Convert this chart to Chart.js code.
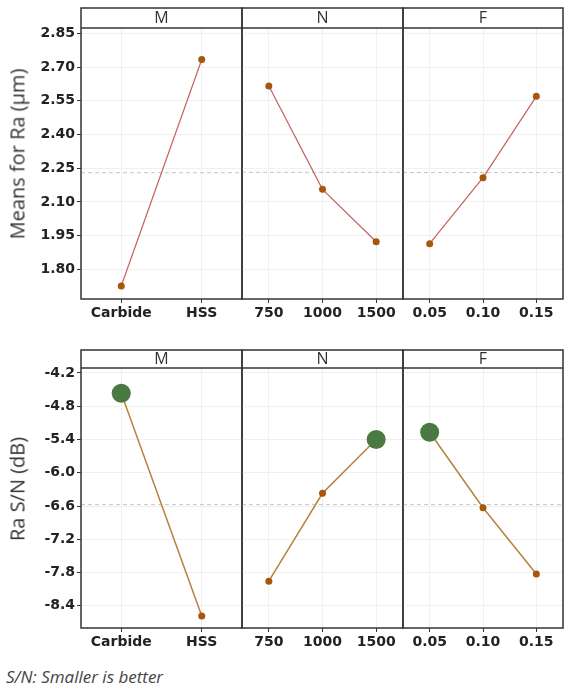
<!DOCTYPE html>
<html>
<head>
<meta charset="utf-8">
<script src="https://cdn.jsdelivr.net/npm/chart.js@4.4.1/dist/chart.umd.min.js"></script>
<style>
body { margin: 0; background: #fff; width: 564px; height: 686px; position: relative; overflow: hidden; font-family: 'Open Sans', sans-serif; }
canvas { position: absolute; }
.ytitle { position: absolute; left: 17px; font-size: 20px; color: #333; white-space: nowrap; transform: translate(-50%, -50%) rotate(-90deg); }
#note { position: absolute; left: 6px; top: 665px; font-style: italic; font-size: 17px; color: #444; }
</style>
</head>
<body>
<div id="note">S/N: Smaller is better</div>
<script>
// factors and their levels
const factors = ['M', 'N', 'F'];
const levelsM = ['Carbide', 'HSS'];
const levelsN = ['750', '1000', '1500'];
const levelsF = ['0.05', '0.10', '0.15'];

// main effects for means (Ra, µm)
const meansM = [1.726, 2.734];
const meansN = [2.616, 2.156, 1.923];
const meansF = [1.914, 2.208, 2.570];

// main effects for S/N ratios (dB)
const snM = [-4.565, -8.585];
const snN = [-7.955, -6.370, -5.400];
const snF = [-5.270, -6.630, -7.825];

// y tick labels
const meanTicks = [1.80, 1.95, 2.10, 2.25, 2.40, 2.55, 2.70, 2.85];
const snTicks = [-8.4, -7.8, -7.2, -6.6, -6.0, -5.4, -4.8, -4.2];

function avg(a) { return a.reduce((s, v) => s + v, 0) / a.length; }

const panelX = [81, 242, 403, 563];
const tickFont = { family: 'DejaVu Sans', size: 14, weight: 'bold' };

const rows = [
    { title: 'Means for Ra (µm)', levels: [levelsM, levelsN, levelsF], values: [meansM, meansN, meansF],
      ticks: meanTicks, dec: 2, min: 1.668, max: 2.874, top: 8, header: 20, bottom: 299,
      line: '#c4625b', lineWidth: 1.2, best: false },
    { title: 'Ra S/N (dB)', levels: [levelsM, levelsN, levelsF], values: [snM, snN, snF],
      ticks: snTicks, dec: 1, min: -8.80, max: -4.11, top: 350, header: 18, bottom: 628,
      line: '#b8803e', lineWidth: 1.5, best: true }
];

const framePlugin = {
    id: 'frame',
    beforeDatasetsDraw(chart, args, opts) {
        const a = chart.chartArea, ctx = chart.ctx;
        const y = chart.scales.y.getPixelForValue(opts.mean);
        ctx.save();
        ctx.strokeStyle = '#c4c4c4';
        ctx.lineWidth = 1;
        ctx.setLineDash([4, 3]);
        ctx.beginPath();
        ctx.moveTo(a.left, y);
        ctx.lineTo(a.right, y);
        ctx.stroke();
        ctx.restore();
    },
    afterDraw(chart, args, opts) {
        const a = chart.chartArea, ctx = chart.ctx;
        ctx.save();
        ctx.strokeStyle = '#333';
        ctx.lineWidth = 1.5;
        ctx.strokeRect(a.left, a.top - opts.header, a.right - a.left, a.bottom - a.top + opts.header);
        ctx.beginPath();
        ctx.moveTo(a.left, a.top);
        ctx.lineTo(a.right, a.top);
        ctx.stroke();
        ctx.restore();
    }
};

function makePanel(row, i) {
    var first = i == 0;
    var left = first ? 0 : panelX[i] - 2;
    var right = Math.min(564, panelX[i + 1] + 2);
    var top = row.top - 2;
    var height = row.bottom + 32 - top;
    var vals = row.values[i];
    var bestIdx = vals.indexOf(Math.max(...vals));

    var cv = document.createElement('canvas');
    cv.width = right - left;
    cv.height = height;
    cv.style.left = left + 'px';
    cv.style.top = top + 'px';
    document.body.appendChild(cv);

    new Chart(cv, {
        type: 'line',
        data: {
            labels: row.levels[i],
            datasets: [{
                data: vals,
                borderColor: row.line,
                borderWidth: row.lineWidth,
                tension: 0,
                pointBorderWidth: 0,
                pointRadius: ctx => (row.best && ctx.dataIndex == bestIdx) ? 9.5 : 3.5,
                pointBackgroundColor: ctx => (row.best && ctx.dataIndex == bestIdx) ? '#4a7a42' : '#a5560f'
            }]
        },
        options: {
            responsive: false,
            animation: false,
            events: [],
            layout: { autoPadding: false, padding: { top: 2, left: first ? 0 : 2, right: right - panelX[i + 1], bottom: 0 } },
            plugins: {
                legend: { display: false },
                tooltip: { enabled: false },
                title: {
                    display: true, text: factors[i], fullSize: false, color: '#333',
                    padding: { top: (row.header - 19.2) / 2, bottom: (row.header - 19.2) / 2 },
                    font: { family: 'Open Sans', size: 16, lineHeight: 1.2, weight: 'normal' }
                },
                frame: { mean: avg(vals), header: row.header }
            },
            scales: {
                x: {
                    offset: true,
                    grid: { offset: false, color: '#f0f0f0', tickColor: '#333', tickLength: 4 },
                    border: { display: false },
                    ticks: { padding: 2, maxRotation: 0, autoSkip: false, color: '#222', font: tickFont },
                    afterFit: s => { s.height = 32; }
                },
                y: {
                    min: row.min, max: row.max,
                    afterBuildTicks: s => { s.ticks = row.ticks.map(v => ({ value: v })); },
                    grid: { color: '#f0f0f0', tickColor: '#333', tickLength: 4, drawTicks: first },
                    border: { display: false },
                    ticks: { display: first, padding: 2, color: '#222', font: tickFont,
                             callback: v => Number(v).toFixed(row.dec) },
                    afterFit: s => { s.width = first ? 81 : 0; }
                }
            }
        },
        plugins: [framePlugin]
    });
}

rows.forEach(function(row) {
    for (var i = 0; i < factors.length; i++) {
        makePanel(row, i);
    }
    // axis title, centred on the whole panel frame (header included)
    var t = document.createElement('div');
    t.className = 'ytitle';
    t.textContent = row.title;
    t.style.top = ((row.top + row.bottom) / 2) + 'px';
    document.body.appendChild(t);
});
</script>
</body>
</html>
